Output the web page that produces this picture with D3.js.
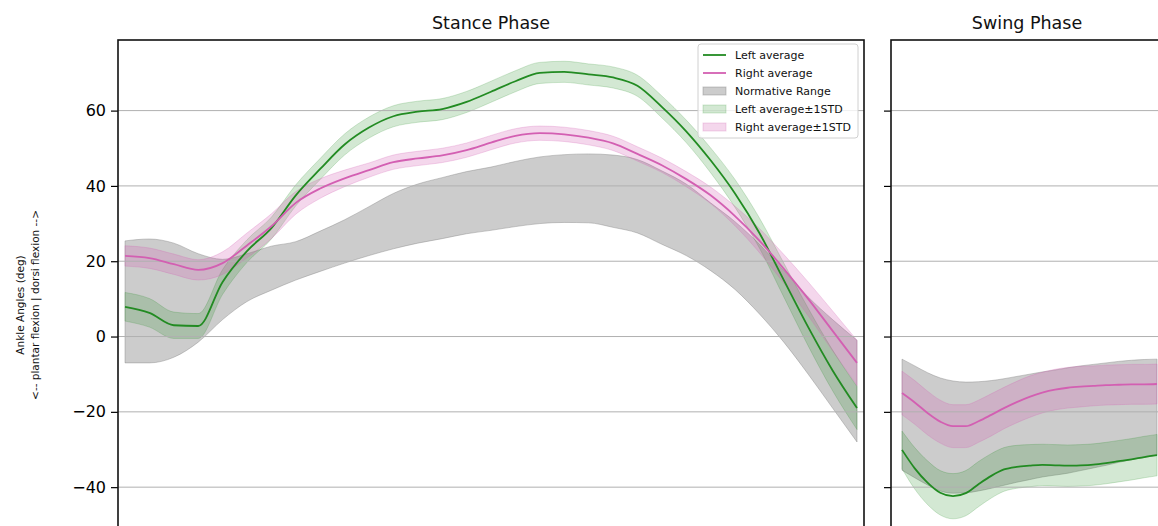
<!DOCTYPE html>
<html>
<head>
<meta charset="utf-8">
<script src="https://cdn.jsdelivr.net/npm/d3@7"></script>
<style>
  html, body { margin: 0; padding: 0; background: #fff; }
  svg { display: block; font-family: "DejaVu Sans", sans-serif; }
</style>
</head>
<body>
<svg id="chart" width="1158" height="526"></svg>
<script>
// Percent of gait cycle sampled for each phase
const stancePct = [0,2,4,6,8,10,12,14,16,18,20,22,24,26,28,30,32,34,36,38,40,42,44,46,48,50,52,54,56,58,60];
const swingPct  = [60,62,64,66,68,70,72,74,76,78,80,82,84,86,88,90,92,94,96,98,100];

// Stance phase ankle angles (deg)
const stanceLeftMean  = [7.9, 6.3, 3.0, 2.8, 14.5, 22.7, 28.8, 37.5, 44.5, 51.0, 55.5, 58.5, 59.7, 60.4, 62.3, 65.0, 67.8, 70.0, 70.3, 69.6, 68.8, 66.6, 61.0, 54.5, 46.8, 38.0, 27.5, 15.0, 2.5, -9.0, -19.0];
const stanceLeftStd   = [3.8, 3.8, 3.5, 3.3, 3.3, 3.0, 2.9, 2.8, 2.8, 2.8, 2.8, 2.8, 2.8, 2.8, 2.8, 2.8, 2.8, 2.8, 2.8, 2.8, 2.8, 2.8, 2.9, 3.0, 3.3, 3.7, 4.0, 4.5, 5.0, 5.4, 5.7];
const stanceRightMean = [21.4, 20.8, 19.2, 17.7, 19.5, 24.2, 29.3, 35.5, 39.3, 42.0, 44.2, 46.3, 47.3, 48.1, 49.5, 51.5, 53.3, 54.0, 53.7, 52.8, 51.3, 48.5, 45.5, 41.8, 37.5, 32.0, 25.5, 18.0, 10.0, 1.5, -7.0];
const stanceRightStd  = [2.7, 2.7, 2.7, 2.7, 3.0, 3.3, 3.3, 3.0, 2.6, 2.2, 1.9, 1.9, 1.9, 1.9, 1.9, 1.9, 1.9, 1.9, 1.9, 1.9, 1.9, 1.9, 1.9, 2.0, 2.2, 2.6, 3.2, 3.8, 4.5, 5.3, 6.0];
const stanceNormUpper = [25.4, 25.9, 24.8, 22.0, 20.5, 22.0, 24.0, 25.2, 28.0, 31.0, 34.5, 38.0, 40.5, 42.2, 43.8, 45.0, 46.5, 47.7, 48.3, 48.5, 48.2, 47.0, 44.0, 40.5, 35.5, 30.5, 24.5, 17.5, 10.5, 4.5, -1.0];
const stanceNormLower = [-7.0, -7.0, -5.5, -1.5, 4.5, 9.3, 12.3, 15.0, 17.3, 19.5, 21.5, 23.3, 24.8, 26.0, 27.3, 28.2, 29.2, 30.0, 30.3, 30.2, 29.0, 27.5, 24.5, 21.5, 17.5, 12.5, 6.0, -1.5, -10.0, -19.0, -28.0];

// Swing phase ankle angles (deg)
const swingLeftMean  = [-30.1, -35.0, -38.8, -41.5, -42.4, -41.6, -39.2, -37.0, -35.3, -34.6, -34.3, -34.1, -34.2, -34.3, -34.2, -34.0, -33.6, -33.1, -32.6, -32.0, -31.5];
const swingLeftStd   = [5.0, 5.5, 5.8, 5.9, 6.0, 6.0, 6.0, 5.9, 5.8, 5.7, 5.6, 5.5, 5.5, 5.5, 5.5, 5.5, 5.5, 5.5, 5.5, 5.5, 5.5];
const swingRightMean = [-15.0, -17.5, -20.3, -22.6, -23.8, -23.8, -22.5, -20.8, -19.0, -17.4, -16.0, -14.9, -14.1, -13.6, -13.3, -13.1, -12.9, -12.8, -12.7, -12.7, -12.6];
const swingRightStd  = [5.8, 5.8, 5.8, 5.7, 5.7, 5.7, 5.6, 5.6, 5.5, 5.5, 5.5, 5.4, 5.4, 5.4, 5.4, 5.3, 5.3, 5.3, 5.3, 5.3, 5.3];
const swingNormUpper = [-6.0, -7.8, -9.6, -11.0, -11.8, -12.1, -12.0, -11.7, -11.2, -10.6, -10.0, -9.4, -8.9, -8.3, -7.8, -7.4, -7.0, -6.6, -6.3, -6.1, -6.0];
const swingNormLower = [-35.5, -37.5, -39.4, -41.0, -41.6, -41.5, -41.0, -40.3, -39.5, -38.7, -38.0, -37.3, -36.8, -36.3, -35.6, -34.9, -34.2, -33.4, -32.7, -32.1, -31.5];

const yTicks = [-40, -20, 0, 20, 40, 60];
const phaseTitles = ["Stance Phase", "Swing Phase"];
const legendLabels = ["Left average", "Right average", "Normative Range", "Left average\u00b11STD", "Right average\u00b11STD"];

// Styling
const leftColor = "#228b22";
const rightColor = "#d35fb2";
const normColor = "#808080";

const svg = d3.select("#chart");
const plotTop = 40, plotBottom = 570;

const y = d3.scaleLinear().domain([-62, 78.75]).range([plotBottom, plotTop]);

const panels = [
  {
    title: phaseTitles[0], x0: 118, x1: 864, labels: true,
    x: d3.scaleLinear().domain([0, 60]).range([125, 857]),
    pct: stancePct,
    lm: stanceLeftMean, ls: stanceLeftStd,
    rm: stanceRightMean, rs: stanceRightStd,
    nu: stanceNormUpper, nl: stanceNormLower
  },
  {
    title: phaseTitles[1], x0: 891, x1: 1163, labels: false,
    x: d3.scaleLinear().domain([60, 100]).range([902, 1157]),
    pct: swingPct,
    lm: swingLeftMean, ls: swingLeftStd,
    rm: swingRightMean, rs: swingRightStd,
    nu: swingNormUpper, nl: swingNormLower
  }
];

const defs = svg.append("defs");

panels.forEach((p, i) => {
  const clipId = "clip" + i;
  defs.append("clipPath").attr("id", clipId)
    .append("rect").attr("x", p.x0).attr("y", plotTop).attr("width", p.x1 - p.x0).attr("height", plotBottom - plotTop);

  const g = svg.append("g");
  const plot = g.append("g").attr("clip-path", `url(#${clipId})`);

  const rows = p.pct.map((t, k) => ({
    t, lm: p.lm[k], ls: p.ls[k], rm: p.rm[k], rs: p.rs[k], nu: p.nu[k], nl: p.nl[k]
  }));

  const band = (lo, hi) => d3.area()
    .curve(d3.curveMonotoneX)
    .x(d => p.x(d.t)).y0(d => y(lo(d))).y1(d => y(hi(d)));
  const line = (f) => d3.line()
    .curve(d3.curveMonotoneX)
    .x(d => p.x(d.t)).y(d => y(f(d)));

  // Normative range
  plot.append("path").datum(rows)
    .attr("d", band(d => d.nl, d => d.nu))
    .attr("fill", normColor).attr("fill-opacity", 0.4)
    .attr("stroke", normColor).attr("stroke-opacity", 0.4).attr("stroke-width", 1);

  // Left ±1 STD
  plot.append("path").datum(rows)
    .attr("d", band(d => d.lm - d.ls, d => d.lm + d.ls))
    .attr("fill", leftColor).attr("fill-opacity", 0.2)
    .attr("stroke", leftColor).attr("stroke-opacity", 0.2).attr("stroke-width", 1);

  // Right ±1 STD
  plot.append("path").datum(rows)
    .attr("d", band(d => d.rm - d.rs, d => d.rm + d.rs))
    .attr("fill", rightColor).attr("fill-opacity", 0.25)
    .attr("stroke", rightColor).attr("stroke-opacity", 0.25).attr("stroke-width", 1);

  // Horizontal grid
  plot.selectAll("line.grid").data(yTicks).enter().append("line")
    .attr("class", "grid")
    .attr("x1", p.x0).attr("x2", p.x1)
    .attr("y1", d => y(d)).attr("y2", d => y(d))
    .attr("stroke", "#b0b0b0").attr("stroke-width", 1);

  // Mean curves
  plot.append("path").datum(rows)
    .attr("d", line(d => d.lm))
    .attr("fill", "none").attr("stroke", leftColor).attr("stroke-width", 1.8);
  plot.append("path").datum(rows)
    .attr("d", line(d => d.rm))
    .attr("fill", "none").attr("stroke", rightColor).attr("stroke-width", 1.8);

  // Y axis
  const axis = d3.axisLeft(y).tickValues(yTicks).tickSizeOuter(0).tickSize(7).tickPadding(5);
  if (!p.labels) axis.tickFormat("");
  const ax = g.append("g").attr("transform", `translate(${p.x0},0)`).call(axis);
  ax.select(".domain").remove();
  ax.selectAll(".tick line").attr("stroke", "#000").attr("stroke-width", 1.2);
  ax.selectAll(".tick text").attr("font-size", 16).attr("fill", "#000")
    .attr("font-family", "DejaVu Sans, sans-serif");

  // Frame
  g.append("rect")
    .attr("x", p.x0).attr("y", plotTop).attr("width", p.x1 - p.x0).attr("height", plotBottom - plotTop)
    .attr("fill", "none").attr("stroke", "#111").attr("stroke-width", 1.6);

  // Title
  g.append("text")
    .attr("x", (p.x0 + p.x1) / 2).attr("y", 28.5)
    .attr("text-anchor", "middle").attr("font-size", 17.5).attr("fill", "#111")
    .text(p.title);
});

// Y axis label
const yl = svg.append("g").attr("transform", "translate(20,305) rotate(-90)");
yl.append("text").attr("text-anchor", "middle").attr("dy", "0.35em")
  .attr("font-size", 10.5).attr("fill", "#111").text("Ankle Angles (deg)");
yl.append("text").attr("text-anchor", "middle").attr("y", 15).attr("dy", "0.35em")
  .attr("font-size", 10.5).attr("fill", "#111").text("<-- plantar flexion | dorsi flexion -->");

// Legend
const lg = svg.append("g");
lg.append("rect").attr("x", 698).attr("y", 44).attr("width", 160).attr("height", 94)
  .attr("rx", 3).attr("fill", "#fff").attr("fill-opacity", 0.8)
  .attr("stroke", "#d0d0d0").attr("stroke-width", 1);

const legendItems = [
  { label: legendLabels[0], kind: "line", color: leftColor },
  { label: legendLabels[1], kind: "line", color: rightColor },
  { label: legendLabels[2], kind: "patch", color: normColor, op: 0.4 },
  { label: legendLabels[3], kind: "patch", color: leftColor, op: 0.2 },
  { label: legendLabels[4], kind: "patch", color: rightColor, op: 0.25 }
];
legendItems.forEach((it, k) => {
  const cy = 55 + k * 18;
  if (it.kind === "line") {
    lg.append("line").attr("x1", 703).attr("x2", 726).attr("y1", cy).attr("y2", cy)
      .attr("stroke", it.color).attr("stroke-width", 1.8);
  } else {
    lg.append("rect").attr("x", 703).attr("y", cy - 4).attr("width", 23).attr("height", 8)
      .attr("fill", it.color).attr("fill-opacity", it.op)
      .attr("stroke", it.color).attr("stroke-opacity", it.op).attr("stroke-width", 1);
  }
  lg.append("text").attr("x", 735).attr("y", cy).attr("dy", "0.35em")
    .attr("font-size", 11).attr("fill", "#111").text(it.label);
});
</script>
</body>
</html>
